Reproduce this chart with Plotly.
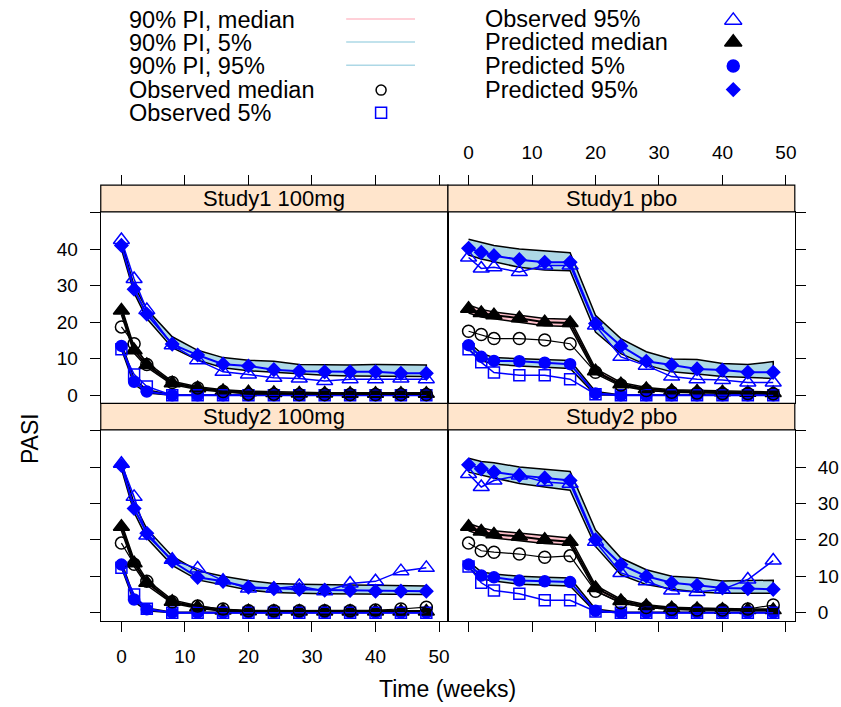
import plotly.graph_objects as go

# ---------------- data ----------------
weeks = [0, 2, 4, 8, 12, 16, 20, 24, 28, 32, 36, 40, 44, 48]
panel_titles = ["Study1 100mg", "Study1 pbo", "Study2 100mg", "Study2 pbo"]
x_ticks = [0, 10, 20, 30, 40, 50]
y_ticks = [0, 10, 20, 30, 40, 50]
y_tick_text = ["0", "10", "20", "30", "40", ""]

# Study1 100mg
s1d_obs_med = [18.7, 14.1, 8.4, 3.5, 2.0, 1.0, 0.3, 0.3, 0.2, 0.2, 0.2, 0.2, 0.2, 0.2]
s1d_obs_5 = [12.6, 5.7, 2.4, 0, 0, 0, 0, 0, 0, 0, 0, 0, 0, 0]
s1d_obs_95 = [42.5, 31.8, 23.3, 13.7, 9.6, 6.4, 5.7, 4.8, 4.6, 3.9, 4.4, 4.4, 4.6, 4.4]
s1d_pred_med = [23.2, 12.3, 8.3, 3.3, 1.9, 1.2, 0.8, 0.6, 0.5, 0.5, 0.4, 0.4, 0.4, 0.4]
s1d_pred_5 = [13.5, 3.7, 1.0, 0, 0, 0, 0, 0, 0, 0, 0, 0, 0, 0]
s1d_pred_95 = [41.0, 29.0, 22.2, 14.0, 11.0, 8.5, 8.0, 7.0, 6.6, 6.4, 6.4, 6.4, 6.0, 6.0]
s1d_pi_med_lo = [22.0, 11.5, 7.7, 2.9, 1.6, 0.9, 0.6, 0.4, 0.3, 0.3, 0.3, 0.3, 0.3, 0.3]
s1d_pi_med_hi = [24.2, 13.2, 9.0, 3.8, 2.3, 1.5, 1.1, 0.9, 0.8, 0.7, 0.7, 0.7, 0.7, 0.7]
s1d_pi_5_lo = [12.6, 3.0, 0.6, 0, 0, 0, 0, 0, 0, 0, 0, 0, 0, 0]
s1d_pi_5_hi = [14.3, 4.5, 1.5, 0.1, 0.1, 0.1, 0.1, 0.1, 0.1, 0.1, 0.1, 0.1, 0.1, 0.1]
s1d_pi_95_lo = [40.0, 28.0, 21.0, 13.0, 9.6, 7.5, 6.7, 6.3, 5.8, 5.5, 5.3, 5.1, 5.1, 5.1]
s1d_pi_95_hi = [42.0, 30.0, 23.5, 16.0, 12.3, 10.3, 9.6, 9.3, 8.4, 8.3, 8.3, 8.4, 8.4, 8.3]

# Study1 pbo
s1p_obs_med = [17.5, 16.6, 15.5, 15.5, 15.1, 14.1, 6.3, 2.8, 1.3, 0.8, 0.6, 0.5, 0.5, 0.4]
s1p_obs_5 = [12.6, 9.0, 6.2, 5.5, 5.5, 4.4, 0.3, 0, 0, 0, 0, 0, 0, 0]
s1p_obs_95 = [37.7, 34.7, 35.0, 33.7, 35.5, 35.5, 19.1, 10.5, 8.1, 5.1, 4.4, 4.2, 3.5, 3.5]
s1p_pred_med = [23.7, 22.5, 21.9, 21.1, 20.0, 19.8, 6.6, 3.0, 1.7, 1.2, 1.0, 0.8, 0.7, 0.6]
s1p_pred_5 = [13.7, 10.5, 9.4, 9.3, 8.9, 8.5, 0.5, 0, 0, 0, 0, 0, 0, 0]
s1p_pred_95 = [40.2, 39.1, 38.2, 37.1, 36.4, 36.4, 19.6, 13.5, 9.3, 8.3, 7.2, 6.9, 6.3, 6.3]
s1p_pi_med_lo = [22.5, 21.4, 20.8, 20.0, 19.0, 18.8, 5.9, 2.5, 1.3, 0.9, 0.7, 0.6, 0.5, 0.4]
s1p_pi_med_hi = [24.7, 23.5, 22.8, 22.0, 21.0, 20.8, 7.3, 3.5, 2.1, 1.5, 1.3, 1.1, 1.0, 0.9]
s1p_pi_5_lo = [12.6, 9.5, 8.5, 8.0, 7.6, 7.3, 0.1, 0, 0, 0, 0, 0, 0, 0]
s1p_pi_5_hi = [14.5, 11.5, 10.3, 10.1, 9.8, 9.5, 1.0, 0.1, 0.1, 0.1, 0.1, 0.1, 0.1, 0.1]
s1p_pi_95_lo = [38.4, 37.3, 36.5, 35.0, 34.3, 34.1, 17.3, 11.4, 8.3, 6.4, 5.8, 5.1, 4.8, 4.6]
s1p_pi_95_hi = [42.7, 41.8, 41.0, 40.0, 39.5, 39.0, 21.9, 15.5, 11.9, 9.9, 9.8, 8.7, 8.4, 9.2]

# Study2 100mg
s2d_obs_med = [19.1, 13.3, 8.6, 3.0, 1.8, 1.0, 0.5, 0.5, 0.5, 0.5, 0.5, 0.7, 1.0, 1.5]
s2d_obs_5 = [12.3, 5.0, 1.1, 0, 0, 0, 0, 0, 0, 0, 0, 0, 0, 0]
s2d_obs_95 = [40.9, 31.8, 21.2, 14.5, 12.1, 8.8, 6.6, 6.6, 7.3, 5.9, 8.0, 8.6, 11.4, 12.3]
s2d_pred_med = [23.6, 13.6, 8.2, 3.0, 1.5, 0.6, 0.4, 0.3, 0.3, 0.3, 0.3, 0.3, 0.3, 0.3]
s2d_pred_5 = [13.2, 3.6, 0.9, 0, 0, 0, 0, 0, 0, 0, 0, 0, 0, 0]
s2d_pred_95 = [40.4, 28.6, 21.8, 14.1, 9.7, 8.6, 7.0, 6.6, 6.4, 6.2, 6.1, 5.9, 5.9, 5.9]
s2d_pi_med_lo = [22.5, 12.7, 7.5, 2.6, 1.2, 0.4, 0.2, 0.2, 0.1, 0.1, 0.1, 0.1, 0.1, 0.1]
s2d_pi_med_hi = [24.6, 14.5, 9.0, 3.5, 1.9, 0.9, 0.6, 0.5, 0.5, 0.5, 0.5, 0.5, 0.5, 0.5]
s2d_pi_5_lo = [12.4, 3.0, 0.5, 0, 0, 0, 0, 0, 0, 0, 0, 0, 0, 0]
s2d_pi_5_hi = [14.0, 4.3, 1.3, 0.1, 0.1, 0.1, 0.1, 0.1, 0.1, 0.1, 0.1, 0.1, 0.1, 0.1]
s2d_pi_95_lo = [39.5, 27.5, 20.5, 13.0, 9.0, 7.6, 6.2, 5.5, 5.3, 5.2, 5.1, 5.0, 5.0, 5.0]
s2d_pi_95_hi = [41.5, 30.0, 23.0, 15.5, 11.5, 10.0, 8.8, 8.0, 7.8, 7.8, 7.6, 7.5, 7.4, 7.3]

# Study2 pbo
s2p_obs_med = [19.1, 17.0, 16.6, 16.1, 15.2, 15.6, 5.9, 2.7, 1.4, 0.9, 0.7, 0.7, 1.0, 2.1]
s2p_obs_5 = [12.7, 8.2, 6.1, 5.2, 3.4, 3.4, 0.3, 0, 0, 0, 0, 0, 0, 0]
s2p_obs_95 = [38.1, 34.5, 36.3, 37.7, 35.9, 35.4, 19.5, 10.9, 8.6, 6.1, 5.7, 6.4, 9.1, 14.3]
s2p_pred_med = [23.6, 22.3, 21.5, 20.9, 20.0, 19.5, 6.8, 3.2, 1.8, 1.2, 1.0, 0.8, 0.7, 0.7]
s2p_pred_5 = [13.2, 10.2, 9.7, 8.8, 8.6, 8.4, 0.5, 0, 0, 0, 0, 0, 0, 0]
s2p_pred_95 = [40.6, 39.5, 38.6, 37.7, 37.0, 36.3, 20.0, 13.2, 10.0, 8.2, 7.5, 6.8, 6.6, 6.4]
s2p_pi_med_lo = [22.5, 21.3, 20.5, 19.8, 19.0, 18.6, 6.0, 2.7, 1.4, 0.9, 0.7, 0.6, 0.5, 0.5]
s2p_pi_med_hi = [24.5, 23.3, 22.5, 21.8, 21.0, 20.5, 7.5, 3.7, 2.2, 1.5, 1.3, 1.1, 1.0, 1.0]
s2p_pi_5_lo = [12.4, 9.2, 8.7, 7.8, 7.5, 7.3, 0.1, 0, 0, 0, 0, 0, 0, 0]
s2p_pi_5_hi = [14.0, 11.2, 10.6, 10.0, 9.7, 9.5, 1.0, 0.1, 0.1, 0.1, 0.1, 0.1, 0.1, 0.1]
s2p_pi_95_lo = [38.6, 37.8, 37.0, 35.5, 34.5, 33.6, 18.2, 10.4, 7.7, 6.5, 5.7, 5.3, 5.3, 5.3]
s2p_pi_95_hi = [42.4, 41.5, 41.2, 40.0, 39.4, 38.8, 22.7, 15.0, 11.8, 10.0, 9.6, 8.7, 8.8, 8.9]

legend_left = ["90% PI, median", "90% PI, 5%", "90% PI, 95%", "Observed median", "Observed 5%"]
legend_right = ["Observed 95%", "Predicted median", "Predicted 5%", "Predicted 95%"]

# ---------------- styling / layout constants ----------------
W, H = 841, 707
FONT = "Liberation Sans, Arial, Helvetica, sans-serif"
BLUE = "#0000FF"
PINK = "#FFC0CB"
LBLUE = "#ADD8E6"
STRIP = "#FFE5CC"
XR = [-3.25, 51.4]
YR = [-2.2, 50.2]

px_l, px_m, px_r = 101, 449, 796.7
py_strip_top1, py_top1, py_bot1 = 186, 212.7, 405
py_strip_top2, py_top2, py_bot2 = 405, 431.7, 623.3


def fx(p):
    return p / W


def fy(p):
    return 1 - p / H


panels = [
    dict(name=panel_titles[0], xa="x", ya="y", xd=[fx(px_l), fx(px_m)], yd=[fy(py_bot1), fy(py_top1)],
         data=(s1d_obs_med, s1d_obs_5, s1d_obs_95, s1d_pred_med, s1d_pred_5, s1d_pred_95,
               s1d_pi_med_lo, s1d_pi_med_hi, s1d_pi_5_lo, s1d_pi_5_hi, s1d_pi_95_lo, s1d_pi_95_hi)),
    dict(name=panel_titles[1], xa="x2", ya="y2", xd=[fx(px_m), fx(px_r)], yd=[fy(py_bot1), fy(py_top1)],
         data=(s1p_obs_med, s1p_obs_5, s1p_obs_95, s1p_pred_med, s1p_pred_5, s1p_pred_95,
               s1p_pi_med_lo, s1p_pi_med_hi, s1p_pi_5_lo, s1p_pi_5_hi, s1p_pi_95_lo, s1p_pi_95_hi)),
    dict(name=panel_titles[2], xa="x3", ya="y3", xd=[fx(px_l), fx(px_m)], yd=[fy(py_bot2), fy(py_top2)],
         data=(s2d_obs_med, s2d_obs_5, s2d_obs_95, s2d_pred_med, s2d_pred_5, s2d_pred_95,
               s2d_pi_med_lo, s2d_pi_med_hi, s2d_pi_5_lo, s2d_pi_5_hi, s2d_pi_95_lo, s2d_pi_95_hi)),
    dict(name=panel_titles[3], xa="x4", ya="y4", xd=[fx(px_m), fx(px_r)], yd=[fy(py_bot2), fy(py_top2)],
         data=(s2p_obs_med, s2p_obs_5, s2p_obs_95, s2p_pred_med, s2p_pred_5, s2p_pred_95,
               s2p_pi_med_lo, s2p_pi_med_hi, s2p_pi_5_lo, s2p_pi_5_hi, s2p_pi_95_lo, s2p_pi_95_hi)),
]

fig = go.Figure()


def band(xa, ya, lo, hi, color):
    fig.add_trace(go.Scatter(
        x=weeks + weeks[::-1], y=hi + lo[::-1], xaxis=xa, yaxis=ya,
        mode="lines", fill="toself", fillcolor=color,
        line=dict(color="black", width=1.5), hoverinfo="skip", showlegend=False))


def series(xa, ya, vals, color, width, symbol, size, lw=1.5):
    fig.add_trace(go.Scatter(
        x=weeks, y=vals, xaxis=xa, yaxis=ya, mode="lines+markers",
        line=dict(color=color, width=width),
        marker=dict(symbol=symbol, size=size, color=color, line=dict(color=color, width=lw)),
        showlegend=False, hoverinfo="skip"))


for p in panels:
    (obs_med, obs_5, obs_95, pred_med, pred_5, pred_95,
     pml, pmh, p5l, p5h, p95l, p95h) = p["data"]
    xa, ya = p["xa"], p["ya"]
    band(xa, ya, p95l, p95h, LBLUE)
    band(xa, ya, pml, pmh, PINK)
    band(xa, ya, p5l, p5h, LBLUE)
    series(xa, ya, pred_95, BLUE, 2, "diamond", 10)
    series(xa, ya, pred_5, BLUE, 2, "circle", 11)
    series(xa, ya, pred_med, "black", 2, "triangle-up", 14)
    series(xa, ya, obs_95, BLUE, 1.5, "triangle-up-open", 14)
    series(xa, ya, obs_5, BLUE, 1.5, "square-open", 11)
    series(xa, ya, obs_med, "black", 1.2, "circle-open", 12)

# helper traces for the top tick axes
fig.add_trace(go.Scatter(x=[], y=[], xaxis="x5", yaxis="y", showlegend=False))
fig.add_trace(go.Scatter(x=[], y=[], xaxis="x6", yaxis="y2", showlegend=False))

TICKFONT = dict(family=FONT, size=19, color="black")


def xax(domain, anchor, show_ticks, labels):
    return dict(domain=domain, anchor=anchor, range=XR, tickvals=x_ticks,
                ticks="outside" if show_ticks else "", ticklen=10, tickwidth=1, tickcolor="black",
                showticklabels=labels, tickfont=TICKFONT, ticklabelstandoff=8,
                showline=True, linecolor="black", linewidth=1.2, mirror=True,
                showgrid=False, zeroline=False)


def yax(domain, anchor, side, labels):
    return dict(domain=domain, anchor=anchor, range=YR, tickvals=y_ticks, ticktext=y_tick_text,
                side=side, ticks="outside", ticklen=10, tickwidth=1, tickcolor="black",
                showticklabels=labels, tickfont=TICKFONT, ticklabelstandoff=8,
                showline=True, linecolor="black", linewidth=1.2, mirror=True,
                showgrid=False, zeroline=False)


top_axis_pos = fy(py_strip_top1)
layout = dict(
    width=W, height=H, margin=dict(l=0, r=0, t=0, b=0),
    paper_bgcolor="white", plot_bgcolor="rgba(0,0,0,0)",
    font=dict(family=FONT, color="black"),
    showlegend=False,
    xaxis=xax(panels[0]["xd"], "y", False, False),
    yaxis=yax(panels[0]["yd"], "x", "left", True),
    xaxis2=xax(panels[1]["xd"], "y2", False, False),
    yaxis2=yax(panels[1]["yd"], "x2", "right", False),
    xaxis3=xax(panels[2]["xd"], "y3", True, True),
    yaxis3=yax(panels[2]["yd"], "x3", "left", False),
    xaxis4=xax(panels[3]["xd"], "y4", True, False),
    yaxis4=yax(panels[3]["yd"], "x4", "right", True),
    xaxis5=dict(overlaying="x", anchor="free", position=top_axis_pos, side="top", range=XR,
                tickvals=x_ticks, ticks="outside", ticklen=10, tickcolor="black",
                showticklabels=False, showline=False, showgrid=False, zeroline=False),
    xaxis6=dict(overlaying="x2", anchor="free", position=top_axis_pos, side="top", range=XR,
                tickvals=x_ticks, ticks="outside", ticklen=10, tickcolor="black",
                showticklabels=True, tickfont=TICKFONT, ticklabelstandoff=9,
                showline=False, showgrid=False, zeroline=False),
    xaxis7=dict(domain=[0, 1], anchor="y7", range=[0, W], visible=False, fixedrange=True),
    yaxis7=dict(domain=[0, 1], anchor="x7", range=[H, 0], visible=False, fixedrange=True),
)
fig.update_layout(**layout)

# strips
shapes = []
annotations = []
for p, (sy0, sy1) in zip(panels, [(py_strip_top1, py_top1), (py_strip_top1, py_top1),
                                  (py_strip_top2, py_top2), (py_strip_top2, py_top2)]):
    x0, x1 = p["xd"]
    shapes.append(dict(type="rect", xref="paper", yref="paper", x0=x0, x1=x1,
                       y0=fy(sy1), y1=fy(sy0), fillcolor=STRIP,
                       line=dict(color="black", width=1.2), layer="above"))
    annotations.append(dict(text=p["name"], xref="paper", yref="paper",
                            x=(x0 + x1) / 2, y=(fy(sy0) + fy(sy1)) / 2,
                            xanchor="center", yanchor="middle", showarrow=False,
                            font=dict(family=FONT, size=22, color="black")))

# axis titles
annotations.append(dict(text="PASI", xref="paper", yref="paper", x=fx(30), y=fy(440),
                        textangle=-90, showarrow=False, xanchor="center", yanchor="middle",
                        font=dict(family=FONT, size=23, color="black")))
annotations.append(dict(text="Time (weeks)", xref="paper", yref="paper", x=fx(449), y=fy(692),
                        showarrow=False, xanchor="center", yanchor="middle",
                        font=dict(family=FONT, size=23, color="black")))

# legend (key block)
LFONT = dict(family=FONT, size=23.5, color="black")
left_rows = [20, 43.3, 66.5, 90.5, 113.3]
right_rows = [19.5, 42.5, 66.3, 90]
for txt, yy in zip(legend_left, left_rows):
    annotations.append(dict(text=txt, xref="x7", yref="y7", x=127, y=yy, xanchor="left",
                            yanchor="middle", showarrow=False, font=LFONT))
for txt, yy in zip(legend_right, right_rows):
    annotations.append(dict(text=txt, xref="x7", yref="y7", x=484, y=yy, xanchor="left",
                            yanchor="middle", showarrow=False, font=LFONT))

for yy, col in zip(left_rows[:3], [PINK, LBLUE, LBLUE]):
    fig.add_trace(go.Scatter(x=[347, 416], y=[yy - 1, yy - 1], xaxis="x7", yaxis="y7",
                             mode="lines", line=dict(color=col, width=1.5),
                             showlegend=False, hoverinfo="skip"))

key_marks = [
    (382, left_rows[3], "circle-open", "black", 10),
    (382, left_rows[4], "square-open", BLUE, 11),
    (735, right_rows[0] + 1, "triangle-up-open", BLUE, 15),
    (735, right_rows[1], "triangle-up", "black", 15),
    (735, right_rows[2], "circle", BLUE, 12),
    (735, right_rows[3], "diamond", BLUE, 10),
]
for kx, ky, sym, col, sz in key_marks:
    fig.add_trace(go.Scatter(x=[kx], y=[ky], xaxis="x7", yaxis="y7", mode="markers",
                             marker=dict(symbol=sym, size=sz, color=col,
                                         line=dict(color=col, width=1.5)),
                             showlegend=False, hoverinfo="skip"))

fig.update_layout(shapes=shapes, annotations=annotations)
# remove the default page margin so the figure sits at the window's top-left corner
fig.write_html("out.html", config={"displayModeBar": False},
               post_script="document.body.style.margin='0';document.body.style.overflow='hidden';")
